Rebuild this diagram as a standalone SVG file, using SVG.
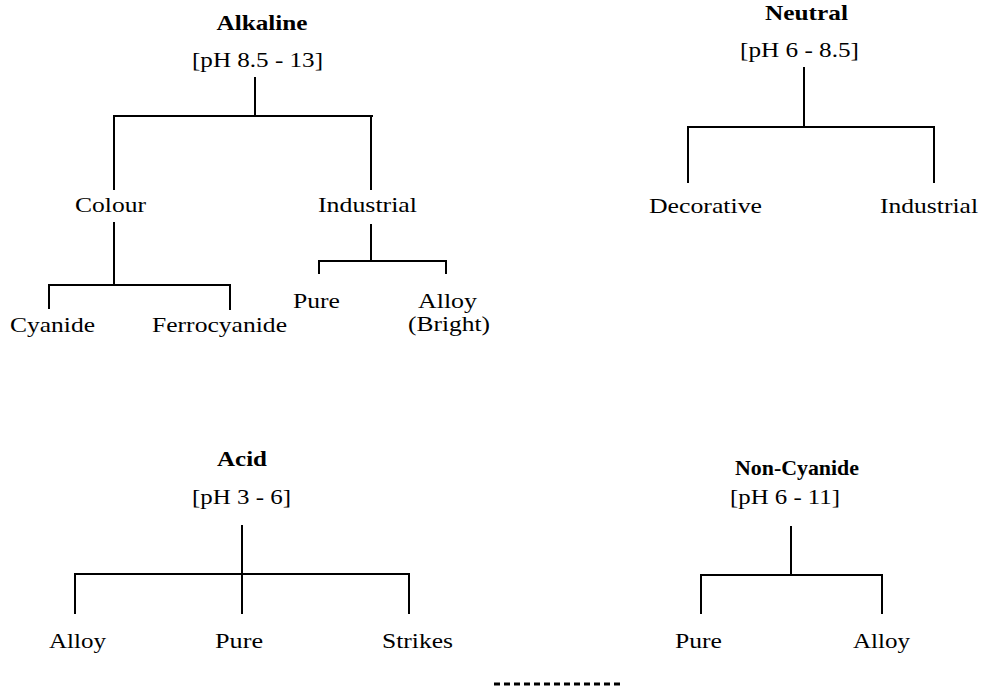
<svg xmlns="http://www.w3.org/2000/svg" width="984" height="689" viewBox="0 0 984 689">
<style>
text{font-family:"Liberation Serif","Times New Roman",serif;font-size:22px;fill:#000;text-anchor:middle}
.t{font-weight:bold}
.c line{stroke:#000;stroke-width:2;stroke-linecap:square}
</style>
<rect width="984" height="689" fill="#fff"/>
<g id="connectors" class="c">
<line x1="255" y1="78" x2="255" y2="116"/>
<line x1="114" y1="116" x2="372" y2="116"/>
<line x1="114" y1="116" x2="114" y2="189"/>
<line x1="371" y1="116" x2="371" y2="189"/>
<line x1="114" y1="223" x2="114" y2="285"/>
<line x1="49" y1="285" x2="230" y2="285"/>
<line x1="49" y1="285" x2="49" y2="308"/>
<line x1="230" y1="285" x2="230" y2="309"/>
<line x1="371" y1="225" x2="371" y2="261"/>
<line x1="319" y1="261" x2="446" y2="261"/>
<line x1="319" y1="261" x2="319" y2="273"/>
<line x1="446" y1="261" x2="446" y2="273"/>
<line x1="804" y1="68" x2="804" y2="127"/>
<line x1="688" y1="127" x2="934" y2="127"/>
<line x1="688" y1="127" x2="688" y2="182"/>
<line x1="934" y1="127" x2="934" y2="182"/>
<line x1="242" y1="526" x2="242" y2="613"/>
<line x1="75" y1="574" x2="409" y2="574"/>
<line x1="75" y1="574" x2="75" y2="613"/>
<line x1="409" y1="574" x2="409" y2="613"/>
<line x1="791" y1="527" x2="791" y2="575"/>
<line x1="701" y1="575" x2="882" y2="575"/>
<line x1="701" y1="575" x2="701" y2="613"/>
<line x1="882" y1="575" x2="882" y2="613"/>
</g>
<g id="alkaline">
<text class="t" x="262" y="30" textLength="91" lengthAdjust="spacingAndGlyphs">Alkaline</text>
<text x="257.5" y="67" textLength="131" lengthAdjust="spacingAndGlyphs">[pH 8.5 - 13]</text>
</g>
<g id="alk-colour"><text x="110.5" y="212" textLength="71" lengthAdjust="spacingAndGlyphs">Colour</text></g>
<g id="alk-industrial"><text x="367.5" y="212" textLength="99" lengthAdjust="spacingAndGlyphs">Industrial</text></g>
<g id="alk-cyanide"><text x="52.5" y="332" textLength="85" lengthAdjust="spacingAndGlyphs">Cyanide</text></g>
<g id="alk-ferrocyanide"><text x="219.5" y="332" textLength="135" lengthAdjust="spacingAndGlyphs">Ferrocyanide</text></g>
<g id="alk-pure"><text x="316.5" y="308" textLength="47" lengthAdjust="spacingAndGlyphs">Pure</text></g>
<g id="alk-alloy">
<text x="447.5" y="308" textLength="59" lengthAdjust="spacingAndGlyphs">Alloy</text>
<text x="449" y="331" textLength="82" lengthAdjust="spacingAndGlyphs">(Bright)</text>
</g>
<g id="neutral">
<text class="t" x="806.5" y="20" textLength="83" lengthAdjust="spacingAndGlyphs">Neutral</text>
<text x="799.5" y="57" textLength="119" lengthAdjust="spacingAndGlyphs">[pH 6 - 8.5]</text>
</g>
<g id="neu-decorative"><text x="705.5" y="213" textLength="113" lengthAdjust="spacingAndGlyphs">Decorative</text></g>
<g id="neu-industrial"><text x="929" y="213" textLength="98" lengthAdjust="spacingAndGlyphs">Industrial</text></g>
<g id="acid">
<text class="t" x="242" y="466" textLength="50" lengthAdjust="spacingAndGlyphs">Acid</text>
<text x="241.5" y="504" textLength="99" lengthAdjust="spacingAndGlyphs">[pH 3 - 6]</text>
</g>
<g id="acid-alloy"><text x="77.5" y="648" textLength="57" lengthAdjust="spacingAndGlyphs">Alloy</text></g>
<g id="acid-pure"><text x="239" y="648" textLength="48" lengthAdjust="spacingAndGlyphs">Pure</text></g>
<g id="acid-strikes"><text x="417.5" y="648" textLength="71" lengthAdjust="spacingAndGlyphs">Strikes</text></g>
<g id="non-cyanide">
<text class="t" x="797" y="475" textLength="124" lengthAdjust="spacingAndGlyphs">Non-Cyanide</text>
<text x="785" y="504" textLength="110" lengthAdjust="spacingAndGlyphs">[pH 6 - 11]</text>
</g>
<g id="nc-pure"><text x="698.5" y="648" textLength="47" lengthAdjust="spacingAndGlyphs">Pure</text></g>
<g id="nc-alloy"><text x="881.5" y="648" textLength="57" lengthAdjust="spacingAndGlyphs">Alloy</text></g>
<line x1="494" y1="684" x2="620" y2="684" stroke="#000" stroke-width="3" stroke-dasharray="6 4"/>
</svg>
